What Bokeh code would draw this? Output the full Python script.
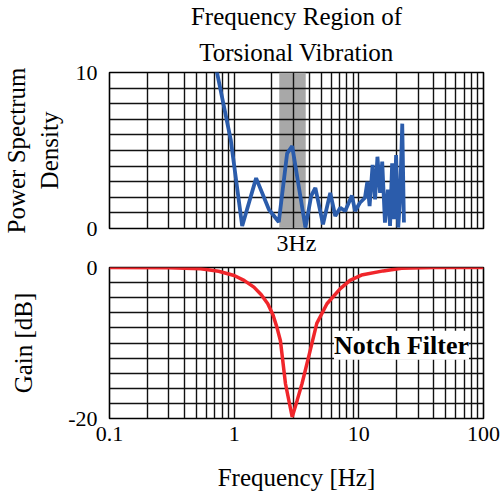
from bokeh.plotting import figure
from bokeh.layouts import column
from bokeh.models import FixedTicker, BoxAnnotation, Label, Title, BasicTickFormatter
from bokeh.embed import file_html
from bokeh.resources import INLINE

# ---- data ----
psd_freq = [0.72, 0.94, 1.16, 1.50, 1.90, 2.28, 2.66, 2.92, 3.73, 4.15, 4.48, 5.16,
            5.9, 6.47, 7.1, 7.77, 8.8, 9.34, 10.2, 11.2, 11.7, 12.2, 12.9, 13.5, 14.1,
            14.8, 15.4, 16.2, 17.1, 17.8, 18.5, 19.2, 19.9, 20.7, 21.4, 22.3, 23.0]
psd_val = [10.2, 5.66, 0.16, 3.23, 1.22, 0.42, 4.82, 5.28, 0.06, 2.1, 2.6, 0.27,
           2.28, 0.8, 1.33, 1.12, 2.11, 1.12, 1.65, 1.97, 3.0, 1.43, 4.08, 1.86, 4.6,
           2.28, 4.29, 0.38, 2.49, 0.16, 4.18, 0.59, 4.71, 0.06, 1.86, 6.72, 0.38]

notch_freq = [0.1, 0.3, 0.54, 0.75, 1.0, 1.2, 1.44, 1.65, 1.86, 2.05, 2.2, 2.35, 2.58,
              2.92, 3.2, 3.5, 4.07, 4.6, 5.55, 7.1, 8.5, 10.5, 15.7, 22, 40, 100]
notch_gain = [0, -0.02, -0.17, -0.5, -1.06, -1.7, -2.6, -3.6, -4.8, -6.3, -7.9, -9.7,
              -15.4, -19.8, -17.6, -15.4, -11, -7.4, -4.8, -2.8, -1.7, -1.0, -0.45,
              -0.1, 0, 0]

band_lo, band_hi = 2.3, 3.75

x_major = [0.1, 1, 10, 100]
x_labels = ["0.1", "1", "10", "100"]
x_minor = [m * d for d in (0.1, 1, 10) for m in range(2, 10)]
psd_major = [0, 10]
psd_labels = ["0", "10"]
psd_minor = list(range(1, 10))
gain_major = [-20, 0]
gain_labels = ["-20", "0"]
gain_minor = list(range(-18, 0, 2))

FONT = "Liberation Serif"
FS = "25px"
TICK_FS = "22px"
BLACK = "#000000"


def style_grid(p, xt, yt):
    p.xgrid.ticker = xt
    p.ygrid.ticker = yt
    for g in (p.xgrid, p.ygrid):
        g.grid_line_color = "#111111"
        g.grid_line_width = 1.4
        g.minor_grid_line_color = "#111111"
        g.minor_grid_line_width = 1.4
        g.level = "underlay"
    p.outline_line_color = "#000000"
    p.outline_line_width = 1.6
    p.background_fill_color = "white"
    p.border_fill_color = "white"


def style_axis(ax, ticker, ticks, labels):
    ax.ticker = ticker
    ax.formatter = BasicTickFormatter()
    ax.major_label_overrides = {t: l for t, l in zip(ticks, labels)}
    ax.axis_line_color = None
    ax.major_tick_line_color = None
    ax.minor_tick_line_color = None
    ax.major_tick_out = 0
    ax.major_tick_in = 0
    ax.minor_tick_out = 0
    ax.minor_tick_in = 0
    ax.major_label_text_font = FONT
    ax.major_label_text_font_size = TICK_FS
    ax.major_label_text_color = BLACK
    ax.axis_label_text_font = FONT
    ax.axis_label_text_font_size = FS
    ax.axis_label_text_font_style = "normal"
    ax.axis_label_text_color = BLACK


def title(text, standoff, size=FS):
    return Title(text=text, align="center", text_font=FONT, text_font_size=size,
                 text_font_style="normal", text_color=BLACK, text_line_height=1.0,
                 standoff=standoff)


# ---- top: power spectrum ----
top = figure(width=501, height=254, x_axis_type="log", x_range=(0.1, 100), y_range=(0, 10),
             x_axis_location=None,
             output_backend="svg", toolbar_location=None,
             min_border_left=108, min_border_right=18, min_border_top=72, min_border_bottom=25)
xt_top = FixedTicker(ticks=x_major, minor_ticks=x_minor)
yt_top = FixedTicker(ticks=psd_major, minor_ticks=psd_minor)
style_axis(top.yaxis[0], yt_top, psd_major, psd_labels)
style_grid(top, xt_top, yt_top)
top.yaxis.axis_label = "Power Spectrum\nDensity"
top.yaxis.major_label_standoff = 12
top.yaxis.axis_label_standoff = 10

band = BoxAnnotation(left=band_lo, right=band_hi, fill_color="#a8a8a8", fill_alpha=1.0,
                     line_color=None, level="image")
top.add_layout(band)
top.line(psd_freq, psd_val, line_color="#2b5cab", line_width=3.8)

top.add_layout(title("Torsional Vibration", 14), "above")
top.add_layout(title("Frequency Region of", 0), "above")
top.add_layout(title("3Hz", -2, "24px"), "below")

# ---- bottom: notch filter ----
bot = figure(width=501, height=239, x_axis_type="log", x_range=(0.1, 100), y_range=(-20, 0),
             output_backend="svg", toolbar_location=None,
             min_border_left=108, min_border_right=18, min_border_top=13, min_border_bottom=75)
xt_bot = FixedTicker(ticks=x_major, minor_ticks=x_minor)
yt_bot = FixedTicker(ticks=gain_major, minor_ticks=gain_minor)
style_axis(bot.xaxis[0], xt_bot, x_major, x_labels)
style_axis(bot.yaxis[0], yt_bot, gain_major, gain_labels)
style_grid(bot, xt_bot, yt_bot)
bot.xaxis.major_label_standoff = 8
bot.xaxis.axis_label = "Frequency [Hz]"
bot.xaxis.axis_label_standoff = 20
bot.yaxis.axis_label = "Gain [dB]"
bot.yaxis.major_label_standoff = 12
bot.yaxis.axis_label_standoff = 28

bot.line(notch_freq, notch_gain, line_color="#f0262b", line_width=3.5)
bot.add_layout(Label(x=22, y=-10.3, text="Notch Filter", text_align="center",
                     text_baseline="middle", text_font=FONT, text_font_size="26px",
                     text_font_style="bold", text_color=BLACK,
                     background_fill_color="white", background_fill_alpha=1.0))

layout = column(top, bot, spacing=0)
open("out.html", "w").write(file_html(layout, INLINE))
